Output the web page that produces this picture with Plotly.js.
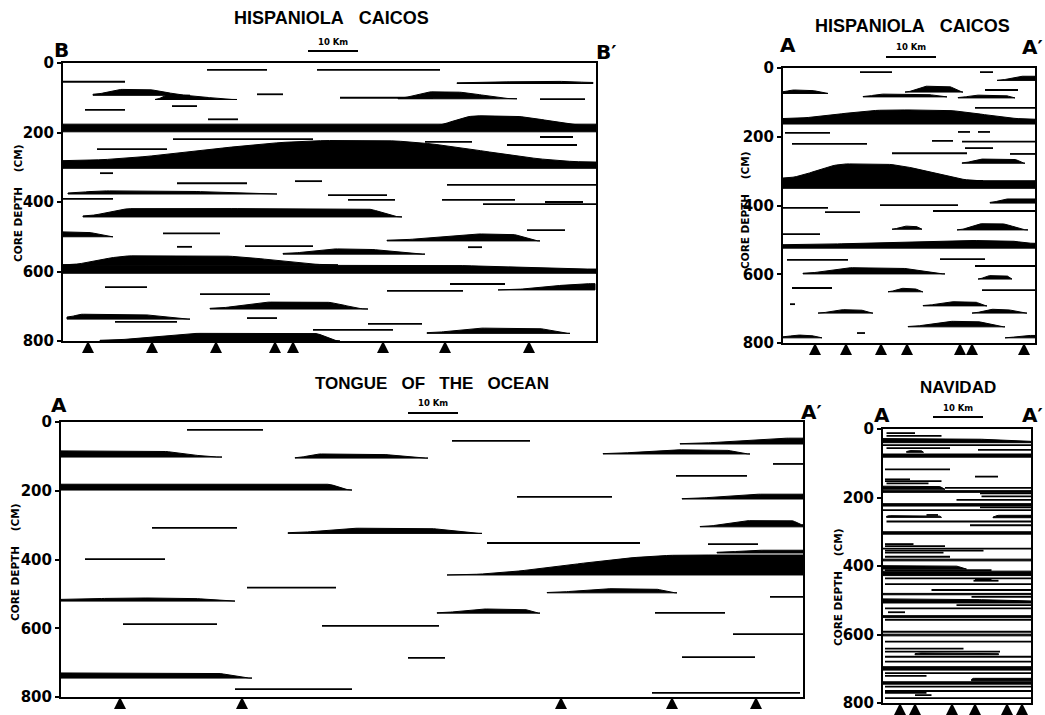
<!DOCTYPE html>
<html><head><meta charset="utf-8">
<script src="https://cdn.plot.ly/plotly-3.0.1.min.js"></script>
<style>html,body{margin:0;padding:0;background:#fff}</style>
</head><body><div id="chart" style="width:1045px;height:715px"></div>
<script>
// ---------- DATA (distance along section in km, core depth in cm) ----------
const depthTicks = [0, 200, 400, 600, 800];
const scaleBarKm = 10;

// Lens = [start km, full-thickness start km, full-thickness end km, end km, base depth cm, max thickness cm, thickness at start, thickness at end]
// Hispaniola-Caicos, section B-B'
const hcbWidth = 106.6;
const hcbLenses = [
  [0, 0, 106.6, 106.6, 198, 22, 22, 22],
  [72.4, 83, 88, 106.6, 185, 33, 0, 4],
  [0, 55, 62, 106.6, 303, 80, 22, 18],
  [6, 12, 16, 25.4, 93, 17, 3, 0],
  [18.4, 21, 23, 34.8, 105, 12, 0, 0],
  [67, 74, 77.4, 90.8, 103, 20, 2, 0],
  [78.8, 95, 100, 106, 59, 6, 2, 3],
  [1, 8, 20, 42.8, 377, 9, 3, 0],
  [4, 14, 60, 67.8, 443, 24, 3, 0],
  [0, 0, 4, 10, 500, 14, 14, 0],
  [64.8, 84, 89, 95.4, 512, 20, 2, 0],
  [44, 55, 59, 72.4, 550, 15, 2, 0],
  [0, 0, 70, 106.6, 605, 24, 24, 12],
  [0, 14, 30, 55, 581, 26, 0, 0],
  [87, 106.4, 106.4, 106.4, 653, 18, 0, 18],
  [29.4, 42, 52, 61, 708, 20, 2, 0],
  [0.8, 4, 14, 25.4, 737, 14, 6, 0],
  [72.8, 84, 94, 101.4, 778, 15, 2, 0],
  [7.4, 28, 50, 55.4, 800, 22, 2, 0]
];
// Thin layer = [start km, end km, depth cm]
const hcbLines = [
  [28.8, 40.8, 20], [50.8, 75.4, 20], [0, 12.4, 54], [38.8, 44, 90], [55.4, 74, 100],
  [95.4, 104.4, 104], [4.4, 12.4, 135], [21.8, 26.8, 124], [29, 35, 162], [22, 50, 219],
  [72.4, 81.8, 227], [88.8, 102.8, 236], [95.4, 102, 213], [6.8, 20.8, 248], [7.4, 10, 317],
  [76.8, 106.6, 351], [22.8, 36.8, 346], [46.4, 51.8, 340], [0, 10, 391], [53, 64.8, 380],
  [57, 66.4, 394], [75.8, 90.4, 394], [84, 106.6, 406], [96.4, 104, 400], [20, 31.4, 490],
  [22.8, 25.8, 529], [36.4, 50, 527], [81, 83.8, 530], [92.8, 100.4, 481], [77.4, 88.4, 636],
  [64.8, 80, 656], [8.4, 16.8, 645], [27.4, 41.4, 665], [10.4, 22.8, 745], [36.8, 42.8, 734],
  [50, 66, 768], [61, 71.8, 751]
];
const hcbCores = [5, 17.8, 30.6, 42.4, 46, 64, 76.4, 93.2];

// Hispaniola-Caicos, section A-A'
const hcaWidth = 50.4;
const hcaLenses = [
  [42.8, 48, 50.4, 50.4, 36, 12, 0, 10],
  [0, 2, 5, 9, 74, 10, 5, 0],
  [24.4, 28.8, 32.8, 36, 70, 17, 0, 0],
  [16, 20, 28, 32.8, 84, 8, 1, 0],
  [35, 39, 44, 46.4, 87, 8, 1, 1],
  [0, 22, 30, 50.4, 163, 41, 16, 14],
  [35.8, 40, 46, 48.4, 277, 12, 1, 0],
  [0, 0, 50.4, 50.4, 350, 22, 22, 22],
  [0, 13, 19, 40, 328, 49, 8, 0],
  [41.4, 45, 50.4, 50.4, 393, 12, 2, 8],
  [21.8, 24.6, 26.4, 27.8, 469, 9, 0, 0],
  [34.8, 40, 43.4, 49, 471, 18, 0, 0],
  [0, 38, 44, 50.4, 524, 22, 10, 14],
  [4, 14, 22, 32.4, 599, 18, 2, 0],
  [39, 41.4, 44.6, 45.8, 614, 10, 0, 0],
  [21, 24, 26, 28, 651, 10, 0, 0],
  [7, 12, 15, 18, 713, 10, 0, 0],
  [28, 34, 38, 40.8, 692, 12, 1, 0],
  [37.8, 42, 44, 48.8, 713, 11, 0, 0],
  [25, 34, 38, 44.4, 753, 16, 1, 0],
  [0, 3, 5, 7.8, 785, 8, 3, 0],
  [44.4, 49, 50.4, 50.4, 785, 7, 0, 7]
];
const hcaLines = [
  [15.4, 21.8, 12], [39.4, 42, 12], [40.4, 47, 64], [38.4, 50.4, 116], [0.4, 9.4, 189],
  [1.8, 16.8, 221], [35, 37.4, 186], [39, 41.4, 186], [29.8, 34, 212], [35.8, 50.4, 214],
  [36.4, 42, 233], [21.8, 36.8, 248], [45.4, 50.4, 250], [0, 9, 407], [8.4, 15.4, 419],
  [19.4, 35, 399], [30, 50.4, 416], [0, 7.4, 483], [0.8, 13, 558], [31.4, 40.4, 556],
  [38.4, 50.4, 576], [1.8, 9.8, 640], [39.8, 50.4, 646], [1.4, 2.4, 687], [14.8, 16.4, 771]
];
const hcaCores = [6.4, 12.6, 19.6, 24.8, 35.4, 37.8, 48.2];

// Tongue of the Ocean, section A-A'
const totWidth = 148.4;
const totLenses = [
  [0, 0, 18, 32.2, 102, 18, 18, 0],
  [0, 0, 53, 58.2, 198, 17, 17, 0],
  [0, 14, 24, 34.8, 521, 9, 5, 0],
  [0, 0, 30, 38.2, 745, 15, 15, 0],
  [46.8, 52, 62, 73.4, 105, 12, 1, 0],
  [45.4, 60, 72, 84.2, 324, 15, 2, 0],
  [77.2, 126, 148.4, 148.4, 445, 58, 0, 58],
  [75.2, 85, 92, 95.8, 556, 12, 1, 0],
  [123.8, 146, 148.4, 148.4, 64, 17, 1, 17],
  [108.4, 124, 132, 137.8, 93, 12, 1, 0],
  [124.2, 140, 148.4, 148.4, 224, 14, 1, 14],
  [127.8, 138, 146, 148.4, 305, 18, 1, 6],
  [131.2, 140, 148.4, 148.4, 381, 8, 2, 8],
  [97.2, 110, 118, 123.2, 497, 12, 1, 0]
];
const totLines = [
  [25.2, 40.4, 23], [18.2, 35.2, 308], [4.8, 20.8, 399], [37.2, 55, 482], [12.4, 31.2, 588],
  [34.8, 58.2, 777], [78.2, 93.8, 55], [91.2, 110.2, 218], [85.2, 115.8, 352], [52.2, 75.6, 593],
  [69.4, 76.8, 686], [142.4, 148.4, 122], [123, 137.2, 157], [129.4, 139.4, 355], [141.8, 148.4, 509],
  [118.8, 132.8, 555], [134.4, 148.4, 617], [124.2, 138.8, 684], [118.2, 147.8, 788]
];
const totCores = [11.8, 36.2, 100, 122.2, 139];

// Navidad, section A-A'
const navWidth = 29.6;
const navLenses = [
  [0, 0, 15, 29.6, 40, 12, 12, 4],
  [4.7, 5.5, 7.5, 8.1, 68, 5, 2, 2],
  [0, 0, 29.6, 29.6, 79, 6, 6, 6],
  [0, 0, 11, 12.4, 176, 9, 9, 2],
  [0, 0, 29.6, 29.6, 185, 5, 5, 5],
  [0, 0, 29.6, 29.6, 225, 7, 7, 7],
  [0.7, 1, 11, 11.7, 258, 5, 3, 2],
  [22, 23, 29.6, 29.6, 259, 7, 2, 7],
  [0, 0, 29.6, 29.6, 307, 7, 7, 7],
  [0, 0, 29.6, 29.6, 385, 5, 5, 5],
  [0, 0, 14, 16.7, 409, 10, 10, 2],
  [0, 0, 29.6, 29.6, 428, 13, 9, 14],
  [0, 0, 29.6, 29.6, 484, 4, 4, 4],
  [0, 0, 12, 29.6, 508, 12, 12, 6],
  [0, 0, 29.6, 29.6, 550, 5, 5, 5],
  [0, 0, 29.6, 29.6, 604, 5, 5, 5],
  [6.4, 7, 23, 23.1, 659, 5, 3, 3],
  [0, 0, 29.6, 29.6, 704, 10, 10, 10],
  [17.7, 18, 29.6, 29.6, 735, 7, 4, 7],
  [0, 0, 29.6, 29.6, 745, 7, 7, 7]
];
const navLines = [
  [0.7, 6.4, 12], [0.7, 11.7, 20], [0, 29.6, 47], [0.7, 13.4, 56], [19, 29.6, 61], [0, 29.6, 81],
  [0.4, 13.4, 118], [18.4, 23, 139], [0.4, 5.4, 147], [0.4, 11.7, 152], [0.7, 9.1, 159],
  [12.4, 29.6, 172], [19.4, 29.6, 188], [19.7, 29.6, 197], [14.7, 29.6, 207], [19.4, 29.6, 229],
  [0, 29.6, 237], [8.7, 11, 251], [0.7, 29.6, 270], [17.4, 29.6, 281], [0.4, 6.1, 336],
  [0.4, 12.4, 342], [0, 29.6, 349], [0.4, 20.1, 355], [0.4, 12.1, 361], [0.4, 13.4, 373],
  [0.4, 21.7, 412], [18.4, 21.7, 439], [0.4, 29.6, 436], [18.1, 23.1, 443], [0.4, 29.6, 453],
  [9.7, 29.6, 470], [17.7, 29.6, 490], [14.7, 29.6, 514], [0.4, 29.6, 524], [1, 4.4, 535],
  [0.4, 29.6, 557], [0, 29.6, 592], [0.4, 29.6, 621], [0.4, 16.1, 641], [0.4, 23.4, 650],
  [0.4, 29.6, 665], [0.4, 29.6, 679], [0.4, 29.6, 713], [0.4, 8.7, 721], [0.4, 29.6, 752],
  [0.4, 29.6, 765], [0.4, 8.7, 770], [6.4, 9.7, 777], [0.4, 29.6, 786]
];
const navCores = [3.4, 6.4, 13.8, 18.4, 24.8, 27.8];

// ---------- DRAWING ----------
const W = 1045, H = 715;
const fx = p => p / W, fy = p => 1 - p / H;

function lensTrace(lenses, xa, ya) {
  const X = [], Y = [];
  const s = u => (1 - Math.cos(Math.PI * u)) / 2;
  lenses.forEach(L => {
    const [x0, a, b, x1, base, T, t0, t1] = L;
    const n = 60;
    const px = [], py = [];
    for (let i = 0; i <= n; i++) {
      const x = x0 + (x1 - x0) * i / n;
      let t;
      if (x < a && a > x0) t = t0 + (T - t0) * s((x - x0) / (a - x0));
      else if (x > b && x1 > b) t = t1 + (T - t1) * s((x1 - x) / (x1 - b));
      else t = T;
      px.push(x); py.push(base - t);
    }
    px.push(x1, x0, px[0]); py.push(base, base, py[0]);
    X.push(...px, null); Y.push(...py, null);
  });
  return {type: 'scatter', mode: 'lines', x: X, y: Y, xaxis: xa, yaxis: ya,
    fill: 'toself', fillcolor: '#000', line: {color: '#000', width: 1},
    hoverinfo: 'skip', showlegend: false};
}
function lineTrace(lines, xa, ya) {
  const X = [], Y = [];
  lines.forEach(([a, b, d]) => { X.push(a, b, null); Y.push(d, d, null); });
  return {type: 'scatter', mode: 'lines', x: X, y: Y, xaxis: xa, yaxis: ya,
    line: {color: '#000', width: 1.8}, hoverinfo: 'skip', showlegend: false};
}
// core locations: drawn in a thin strip (own y axis) just under each section
function coreTrace(cores, xa, ya) {
  return {type: 'scatter', mode: 'markers', x: cores, y: cores.map(() => 1),
    xaxis: xa, yaxis: ya, cliponaxis: false,
    marker: {symbol: 'arrow-up', size: 12, color: '#000', line: {width: 0}},
    hoverinfo: 'skip', showlegend: false};
}

const panels = [
  {lenses: hcbLenses, lines: hcbLines, cores: hcbCores, width: hcbWidth, box: [63, 596, 63, 341], strip: 12},
  {lenses: hcaLenses, lines: hcaLines, cores: hcaCores, width: hcaWidth, box: [783, 1035, 68, 343], strip: 13},
  {lenses: totLenses, lines: totLines, cores: totCores, width: totWidth, box: [61, 803, 422, 697], strip: 13},
  {lenses: navLenses, lines: navLines, cores: navCores, width: navWidth, box: [883, 1031, 429, 703], strip: 11}
];

const data = [];
const layout = {width: W, height: H, margin: {l: 0, r: 0, t: 0, b: 0},
  paper_bgcolor: '#fff', plot_bgcolor: 'rgba(0,0,0,0)', showlegend: false,
  annotations: [], shapes: []};

panels.forEach((p, i) => {
  const k = i === 0 ? '' : String(i + 1);
  const ks = String(i + 5);
  const xa = 'x' + k, ya = 'y' + k, yc = 'y' + ks;
  data.push(lensTrace(p.lenses, xa, ya), lineTrace(p.lines, xa, ya), coreTrace(p.cores, xa, yc));
  const [l, r, t, b] = p.box;
  layout['xaxis' + k] = {domain: [fx(l), fx(r)], anchor: ya, range: [0, p.width],
    showline: true, linewidth: 2, linecolor: '#000', mirror: true, showticklabels: false,
    ticks: '', showgrid: false, zeroline: false, fixedrange: true};
  layout['yaxis' + k] = {domain: [fy(b), fy(t)], anchor: xa, range: [800, 0],
    tickvals: depthTicks, ticktext: depthTicks.map(String),
    showline: true, linewidth: 2, linecolor: '#000', mirror: true,
    ticks: 'outside', ticklen: 4, tickwidth: 2, tickcolor: '#000',
    showgrid: false, zeroline: false, fixedrange: true,
    tickfont: {family: 'DejaVu Sans', size: 15, weight: 'bold', color: '#000'}};
  layout['yaxis' + ks] = {domain: [Math.max(0, fy(b + p.strip)), fy(b)], anchor: xa, range: [0, 1],
    visible: false, showgrid: false, zeroline: false, fixedrange: true};
});

const nb = '\u00a0';
function txt(text, x, y, size, family, angle) {
  layout.annotations.push({text: text, xref: 'paper', yref: 'paper', x: fx(x), y: fy(y),
    xanchor: 'center', yanchor: 'middle', showarrow: false, textangle: angle || 0,
    font: {family: family || 'Liberation Sans', size: size, weight: 'bold', color: '#000'}});
}
txt('HISPANIOLA' + nb + nb + nb + 'CAICOS', 331, 18, 18);
txt('HISPANIOLA' + nb + nb + nb + 'CAICOS', 912, 26, 18);
txt('TONGUE' + nb + nb + nb + 'OF' + nb + nb + nb + 'THE' + nb + nb + nb + 'OCEAN', 432, 383, 17);
txt('NAVIDAD', 958, 387, 17);
txt('B', 61, 50, 20, 'DejaVu Sans');
txt('B\u2032', 606, 52, 20, 'DejaVu Sans');
txt('A', 788, 45, 20, 'DejaVu Sans');
txt('A\u2032', 1032, 47, 20, 'DejaVu Sans');
txt('A', 59, 405, 20, 'DejaVu Sans');
txt('A\u2032', 811, 412, 20, 'DejaVu Sans');
txt('A', 882, 415, 20, 'DejaVu Sans');
txt('A\u2032', 1032, 415, 20, 'DejaVu Sans');
const yTitle = 'CORE' + nb + 'DEPTH' + nb + nb + nb + nb + '(CM)';
txt(yTitle, 18, 204, 10.5, 'DejaVu Sans', -90);
txt(yTitle, 745, 210, 10.5, 'DejaVu Sans', -90);
txt(yTitle, 15, 563, 10.5, 'DejaVu Sans', -90);
txt(yTitle, 838, 588, 10.5, 'DejaVu Sans', -90);

// scale bars (10 km, drawn in each panel's km scale)
const bars = [['x', 49, 51, 42], ['x2', 20.6, 57, 47], ['x3', 69.4, 413, 403], ['x4', 10, 417, 408]];
bars.forEach(([xr, start, yb, yl]) => {
  layout.shapes.push({type: 'line', xref: xr, yref: 'paper', x0: start, x1: start + scaleBarKm,
    y0: fy(yb), y1: fy(yb), line: {color: '#000', width: 2}});
  layout.annotations.push({text: '10 Km', xref: xr, yref: 'paper', x: start + scaleBarKm / 2, y: fy(yl),
    xanchor: 'center', yanchor: 'middle', showarrow: false,
    font: {family: 'DejaVu Sans', size: 8.5, weight: 'bold', color: '#000'}});
});

Plotly.newPlot('chart', data, layout, {staticPlot: true, displayModeBar: false});
</script></body></html>
